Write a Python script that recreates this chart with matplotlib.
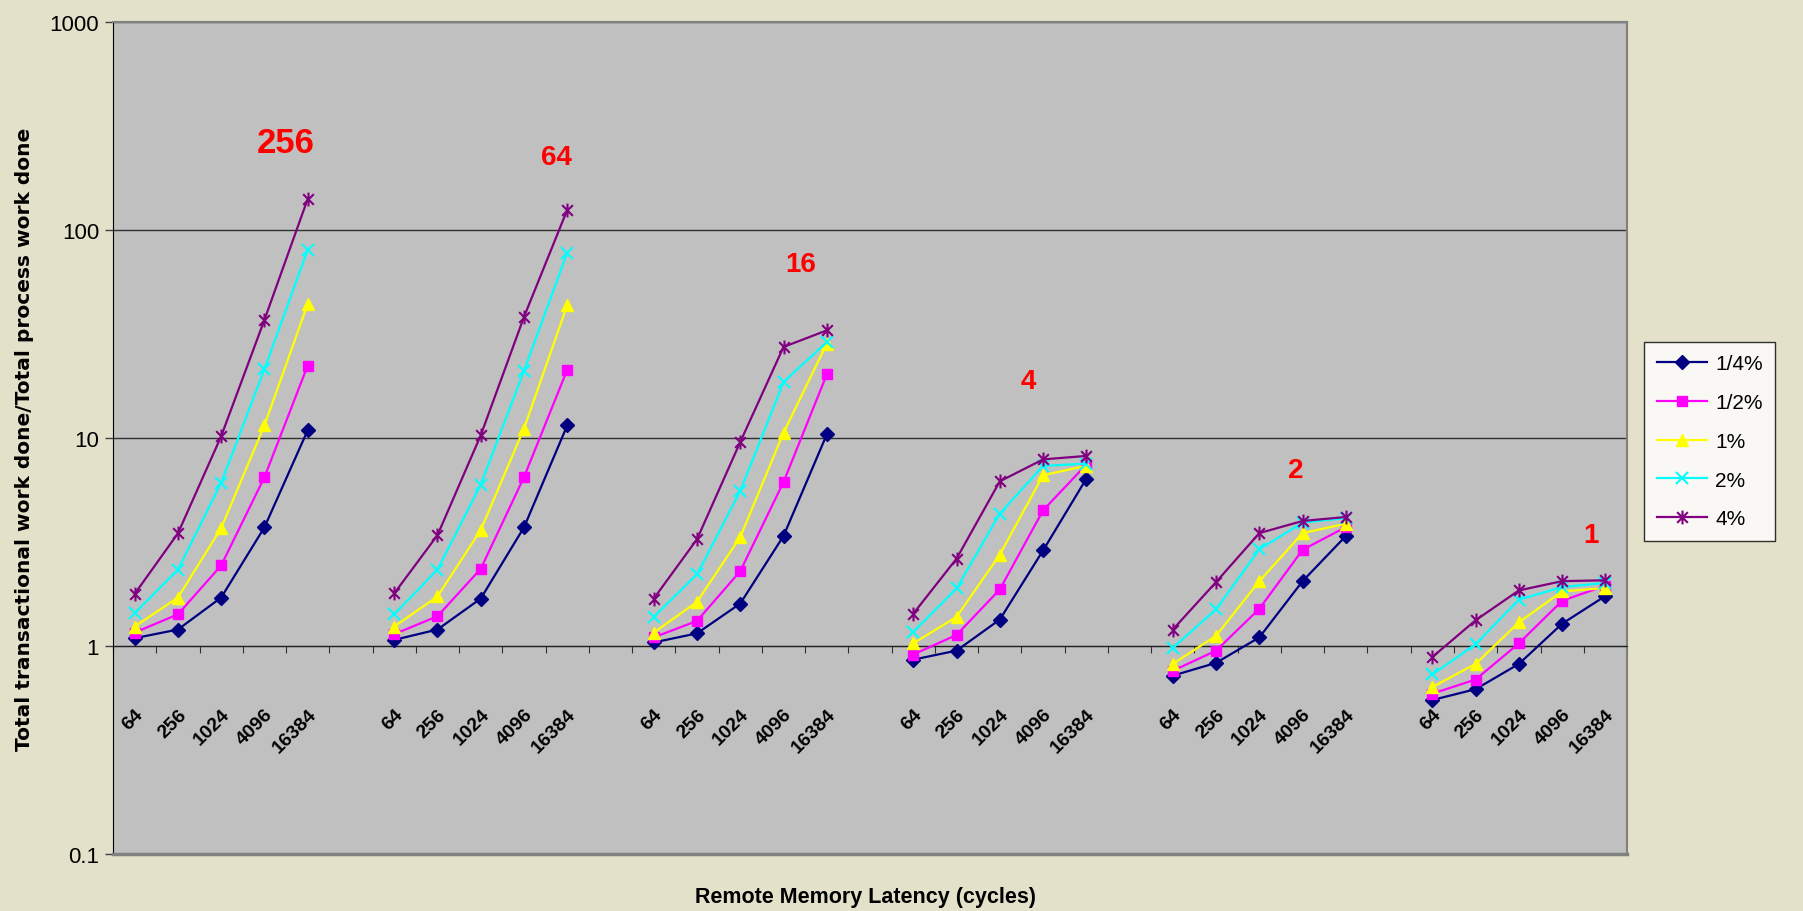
import numpy as np
import matplotlib
matplotlib.use("Agg")
import matplotlib.pyplot as plt
from matplotlib.path import Path

# x categories: latency per group, six groups (transactional share)
latency = ["64", "256", "1024", "4096", "16384"]
group_names = ["256", "64", "16", "4", "2", "1"]
series_names = ["1/4%", "1/2%", "1%", "2%", "4%"]

q14 = [[1.09, 1.20, 1.71, 3.72, 10.9],
       [1.07, 1.20, 1.69, 3.72, 11.5],
       [1.04, 1.15, 1.60, 3.38, 10.4],
       [0.86, 0.95, 1.34, 2.88, 6.37],
       [0.72, 0.83, 1.10, 2.05, 3.38],
       [0.55, 0.62, 0.82, 1.28, 1.74]]
q12 = [[1.16, 1.42, 2.44, 6.48, 22.3],
       [1.14, 1.39, 2.35, 6.48, 21.3],
       [1.10, 1.32, 2.29, 6.14, 20.2],
       [0.91, 1.13, 1.87, 4.49, 7.45],
       [0.76, 0.95, 1.51, 2.90, 3.73],
       [0.59, 0.69, 1.03, 1.65, 1.95]]
p1 = [[1.24, 1.71, 3.69, 11.5, 44.1],
      [1.24, 1.73, 3.61, 11.1, 43.5],
      [1.16, 1.63, 3.34, 10.6, 28.4],
      [1.03, 1.38, 2.75, 6.62, 7.35],
      [0.82, 1.12, 2.05, 3.49, 3.87],
      [0.635, 0.82, 1.30, 1.83, 1.90]]
p2 = [[1.44, 2.33, 6.10, 21.4, 80.4],
      [1.42, 2.33, 5.97, 21.0, 77.9],
      [1.38, 2.21, 5.56, 18.6, 28.9],
      [1.17, 1.89, 4.33, 7.34, 7.53],
      [0.98, 1.50, 2.92, 3.92, 4.12],
      [0.73, 1.02, 1.67, 1.92, 2.01]]
p4 = [[1.78, 3.48, 10.2, 37.0, 141],
      [1.79, 3.41, 10.3, 38.2, 125],
      [1.69, 3.26, 9.57, 27.4, 32.9],
      [1.43, 2.63, 6.19, 7.89, 8.20],
      [1.20, 2.03, 3.49, 3.99, 4.17],
      [0.885, 1.33, 1.85, 2.05, 2.07]]

# where the red group labels sit (category index, value)
label_x = [3.5, 9.75, 15.4, 20.67, 26.85, 33.67]
label_y = [262, 224, 69, 18.8, 7.0, 3.42]
label_size = [25, 20, 20, 20, 20, 20]

colors = ["#000080", "#FF00FF", "#FFFF00", "#00FFFF", "#800080"]

star = Path([(-1, -1), (1, 1), (-1, 1), (1, -1), (0, -1.3), (0, 1.3)],
            [Path.MOVETO, Path.LINETO, Path.MOVETO, Path.LINETO, Path.MOVETO, Path.LINETO])
markers = ["D", "s", "^", "x", star]
msizes = [7, 7, 8, 9, 10]


def flatten(groups):
    # 5 points then an empty slot, no slot after the last group
    out = []
    for i, g in enumerate(groups):
        out += g
        if i < len(groups) - 1:
            out.append(np.nan)
    return np.array(out)


labels = []
for i in range(len(group_names)):
    labels += latency
    if i < len(group_names) - 1:
        labels.append("")
x = np.arange(len(labels))

bg = "#E3E1C9"
fig = plt.figure(figsize=(18.03, 9.12), dpi=100, facecolor=bg)
ax = fig.add_axes([0.0627, 0.0625, 0.8397, 0.9123])
ax.set_facecolor("#C0C0C0")

for name, data, c, m, ms in zip(series_names, [q14, q12, p1, p2, p4], colors, markers, msizes):
    ax.plot(x, flatten(data), color=c, lw=1.6, marker=m, ms=ms,
            mec=c, mfc=c, mew=1.5 if m in ("x",) or m is star else 1, label=name, zorder=3)

ax.set_yscale("log")
ax.set_ylim(0.1, 1000)
ax.set_xlim(-0.5, len(labels) - 0.5)

ax.set_yticks([0.1, 1, 10, 100, 1000])
ax.set_yticklabels(["0.1", "1", "10", "100", "1000"], fontsize=16, family="Liberation Sans")
ax.yaxis.set_minor_locator(matplotlib.ticker.NullLocator())
ax.tick_params(axis="y", direction="out", length=6, width=1, color="#404040", pad=4)
ax.yaxis.grid(True, color="#303030", lw=1)

# category axis crosses at 1, ticks between categories
ax.spines["bottom"].set_position(("data", 1))
ax.spines["bottom"].set_color("#202020")
ax.set_xticks(np.arange(-0.5, len(labels), 1.0))
ax.set_xticklabels([])
ax.set_xticks(x, minor=True)
ax.set_xticklabels(labels, minor=True, fontsize=14, fontweight="bold", family="Liberation Sans")
ax.tick_params(axis="x", which="major", direction="out", length=5, color="#303030")
ax.tick_params(axis="x", which="minor", length=0, pad=43)
plt.setp(ax.get_xticklabels(minor=True), rotation=45, ha="right", rotation_mode="anchor")

for s in ["top", "right"]:
    ax.spines[s].set_color("#808080")
    ax.spines[s].set_linewidth(1.5)
ax.spines["left"].set_color("black")
ax.axhline(0.1, color="#808080", lw=2.5, clip_on=False, zorder=4)

for t, lx, ly, fs in zip(group_names, label_x, label_y, label_size):
    ax.text(lx, ly, t, color="red", fontsize=fs, fontweight="bold",
            family="Liberation Sans", ha="center", va="center")

ax.set_ylabel("Total transactional work done/Total process work done",
              fontsize=14.5, fontweight="bold", family="DejaVu Sans")
ax.yaxis.set_label_coords(-0.0525, 0.5)
fig.text(0.48, 0.0164, "Remote Memory Latency (cycles)", fontsize=15.5, fontweight="bold",
         family="Liberation Sans", ha="center", va="center")

leg = ax.legend(loc="center left", bbox_to_anchor=(0.912, 0.515), bbox_transform=fig.transFigure,
                prop={"family": "Liberation Sans", "size": 15}, frameon=True, fancybox=False,
                handlelength=2.4, labelspacing=0.95, borderpad=0.6, handletextpad=0.4,
                borderaxespad=0)
leg.get_frame().set_edgecolor("black")
leg.get_frame().set_facecolor("white")
leg.get_frame().set_linewidth(1)

plt.savefig("out.png", dpi=100, facecolor=bg)
